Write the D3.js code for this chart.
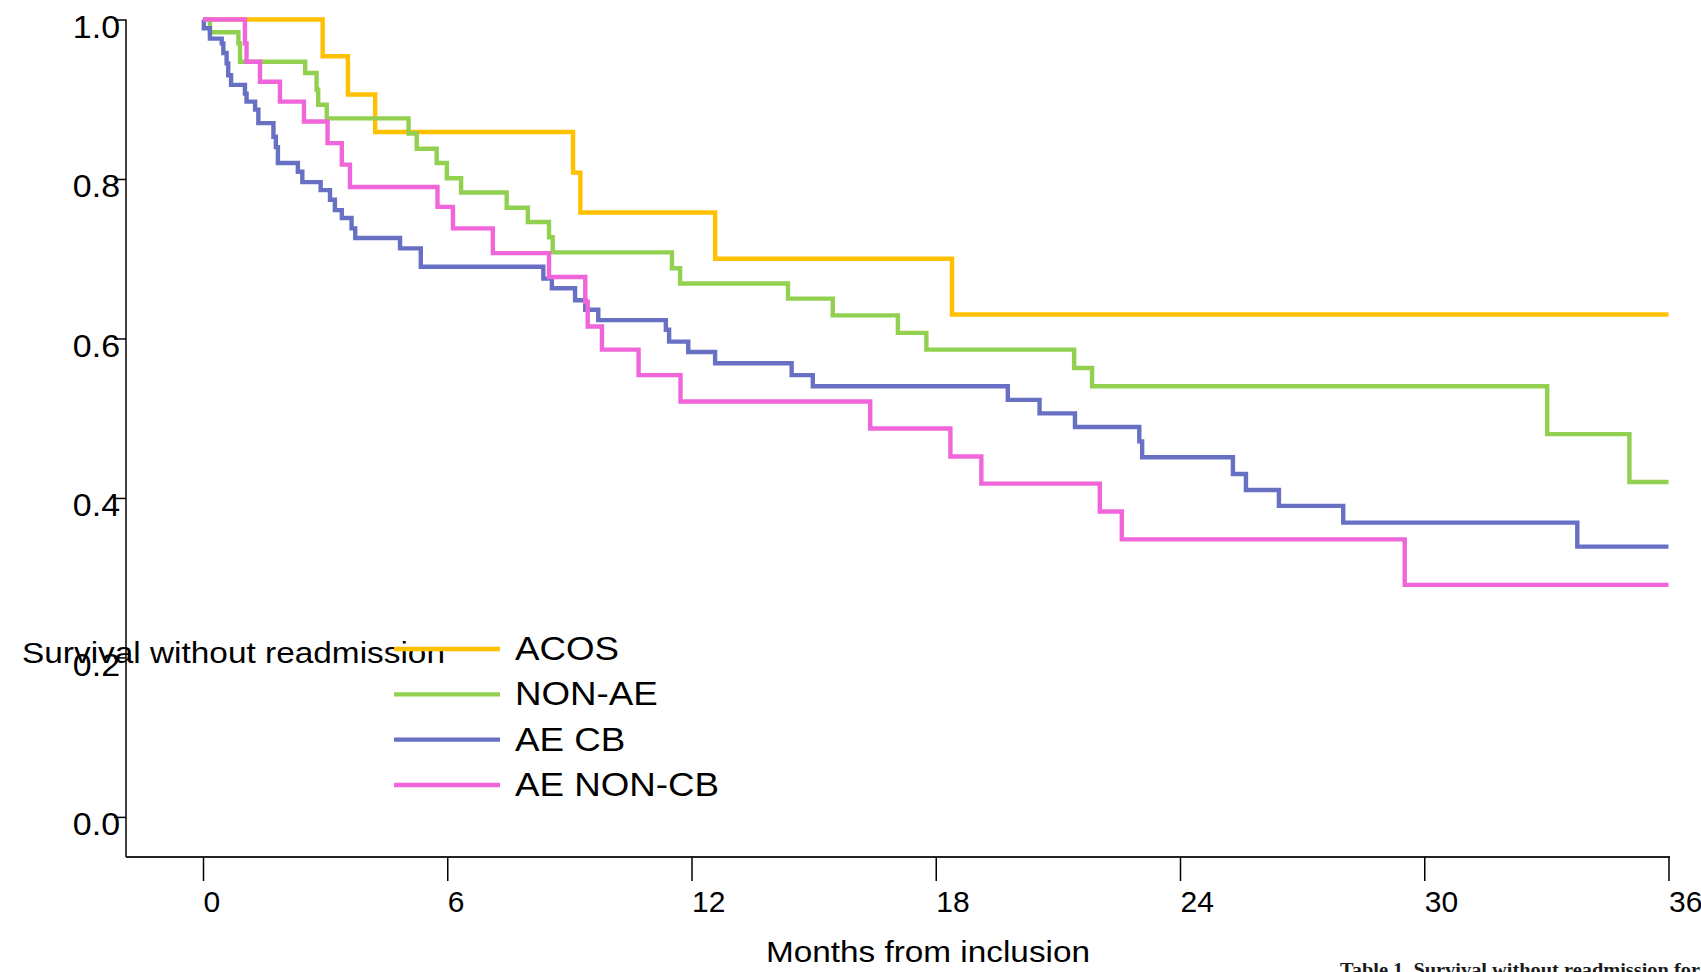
<!DOCTYPE html>
<html>
<head>
<meta charset="utf-8">
<script src="https://cdn.jsdelivr.net/npm/d3@7"></script>
<style>
  html, body { margin: 0; padding: 0; background: #ffffff; }
  svg { display: block; }
</style>
</head>
<body>
<svg id="chart" width="1701" height="972"></svg>
<script>
// ---- data ----
const monthTicks = [0, 6, 12, 18, 24, 30, 36];
const survTicks = [0, 0.2, 0.4, 0.6, 0.8, 1.0];
const seriesNames = ["ACOS", "NON-AE", "AE CB", "AE NON-CB"];

const acosTime = [0, 2.94, 3.56, 4.23, 9.09, 9.27, 12.58, 18.40];
const acosSurv = [1.0, 0.954, 0.906, 0.859, 0.808, 0.758, 0.700, 0.630];

const nonAeTime = [0, 0.17, 0.87, 0.91, 2.51, 2.79, 2.83, 3.04, 5.05, 5.25, 5.74, 5.99, 6.34, 7.46, 7.98, 8.50, 8.59, 11.52, 11.72, 14.37, 15.47, 17.07, 17.77, 21.40, 21.84, 33.02, 35.04];
const nonAeSurv = [1.0, 0.984, 0.970, 0.947, 0.933, 0.912, 0.893, 0.876, 0.857, 0.838, 0.820, 0.801, 0.783, 0.764, 0.746, 0.727, 0.708, 0.688, 0.669, 0.650, 0.629, 0.607, 0.586, 0.563, 0.540, 0.480, 0.420];

const aeCbTime = [0, 0.02, 0.17, 0.46, 0.50, 0.58, 0.62, 0.69, 1.03, 1.07, 1.28, 1.36, 1.73, 1.79, 1.84, 2.33, 2.44, 2.89, 3.12, 3.24, 3.41, 3.65, 3.74, 4.84, 5.35, 8.36, 8.57, 9.14, 9.39, 9.71, 11.37, 11.45, 11.92, 12.58, 14.46, 14.98, 19.77, 20.55, 21.42, 23.00, 23.07, 25.30, 25.62, 26.43, 28.01, 33.76];
const aeCbSurv = [1.0, 0.989, 0.976, 0.970, 0.958, 0.945, 0.930, 0.918, 0.907, 0.897, 0.887, 0.870, 0.853, 0.840, 0.820, 0.809, 0.796, 0.786, 0.774, 0.761, 0.751, 0.738, 0.726, 0.713, 0.690, 0.675, 0.663, 0.648, 0.636, 0.623, 0.611, 0.596, 0.583, 0.569, 0.554, 0.540, 0.523, 0.506, 0.489, 0.471, 0.451, 0.430, 0.410, 0.390, 0.369, 0.339];

const aeNonCbTime = [0, 1.03, 1.07, 1.40, 1.89, 2.48, 3.06, 3.41, 3.61, 5.76, 6.14, 7.12, 8.50, 9.39, 9.45, 9.80, 10.70, 11.73, 16.39, 18.36, 19.12, 22.03, 22.57, 29.52];
const aeNonCbSurv = [1.0, 0.970, 0.947, 0.922, 0.897, 0.872, 0.845, 0.818, 0.790, 0.765, 0.738, 0.707, 0.677, 0.646, 0.615, 0.586, 0.554, 0.521, 0.487, 0.452, 0.418, 0.383, 0.348, 0.291];

const seriesColors = ["#FFC000", "#92D050", "#6870C4", "#F066DA"];
const followUpEnd = 36;

// ---- chart ----
const svg = d3.select("#chart");
const FONT = "'Liberation Sans', Arial, Helvetica, sans-serif";

const x = d3.scaleLinear().domain([0, 36]).range([203, 1668.5]);
const y = d3.scaleLinear().domain([0, 1]).range([816.9, 19.5]);

const axisX0 = 126, axisY0 = 857;

function stretch(sel, f) {
  sel.each(function() {
    const w = this.getComputedTextLength();
    d3.select(this).attr("textLength", w * f).attr("lengthAdjust", "spacingAndGlyphs");
  });
}

// Y axis
svg.append("line")
  .attr("x1", axisX0).attr("x2", axisX0)
  .attr("y1", y(1)).attr("y2", axisY0)
  .attr("stroke", "#000").attr("stroke-width", 1.5);

const yAxis = svg.append("g")
  .attr("transform", `translate(${axisX0},0)`)
  .call(d3.axisLeft(y).tickValues(survTicks).tickFormat(d3.format(".1f")).tickSize(12).tickSizeOuter(0));
yAxis.select(".domain").remove();
yAxis.selectAll(".tick line").attr("stroke", "#000").attr("stroke-width", 1.5);
yAxis.selectAll(".tick text")
  .attr("x", -6).attr("dy", 18)
  .attr("text-anchor", "end")
  .style("font-family", FONT).style("font-size", "32px").attr("fill", "#000");
stretch(yAxis.selectAll(".tick text"), 1.06);

// X axis
svg.append("line")
  .attr("x1", axisX0).attr("x2", 1670)
  .attr("y1", axisY0).attr("y2", axisY0)
  .attr("stroke", "#222").attr("stroke-width", 2);

const xAxis = svg.append("g")
  .attr("transform", `translate(0,${axisY0})`)
  .call(d3.axisBottom(x).tickValues(monthTicks).tickFormat(d3.format("d")).tickSize(24).tickSizeOuter(0));
xAxis.select(".domain").remove();
xAxis.selectAll(".tick line").attr("stroke", "#000").attr("stroke-width", 1.5);
xAxis.selectAll(".tick text")
  .attr("x", 0).attr("y", 55).attr("dy", 0)
  .attr("text-anchor", "start")
  .style("font-family", FONT).style("font-size", "30px").attr("fill", "#000");

// axis title
svg.append("text")
  .attr("x", 928).attr("y", 961.5)
  .attr("text-anchor", "middle")
  .style("font-family", FONT).style("font-size", "30px").attr("fill", "#000")
  .attr("textLength", 324).attr("lengthAdjust", "spacingAndGlyphs")
  .text("Months from inclusion");

// y title (placed as in the source, overlapping the axis)
svg.append("text")
  .attr("x", 22).attr("y", 663)
  .style("font-family", FONT).style("font-size", "30px").attr("fill", "#000")
  .attr("textLength", 423).attr("lengthAdjust", "spacingAndGlyphs")
  .text("Survival without readmission");

// curves
const times = [acosTime, nonAeTime, aeCbTime, aeNonCbTime];
const survs = [acosSurv, nonAeSurv, aeCbSurv, aeNonCbSurv];
const series = seriesNames.map((name, i) => {
  const pts = times[i].map((t, j) => [t, survs[i][j]]);
  pts.push([followUpEnd, survs[i][survs[i].length - 1]]);
  return { name, color: seriesColors[i], pts };
});

const line = d3.line()
  .x(d => x(d[0]))
  .y(d => y(d[1]))
  .curve(d3.curveStepAfter);

svg.append("g").selectAll("path")
  .data(series)
  .join("path")
  .attr("d", d => line(d.pts))
  .attr("fill", "none")
  .attr("stroke", d => d.color)
  .attr("stroke-width", 4.4)
  .attr("stroke-linejoin", "miter")
  .attr("stroke-linecap", "butt");

// legend
const legendY = d3.scalePoint().domain(seriesNames).range([649, 785]);
const lg = svg.append("g");
lg.selectAll("line")
  .data(series)
  .join("line")
  .attr("x1", 394).attr("x2", 500)
  .attr("y1", d => legendY(d.name)).attr("y2", d => legendY(d.name))
  .attr("stroke", d => d.color).attr("stroke-width", 4.4);
const lt = lg.selectAll("text")
  .data(series)
  .join("text")
  .attr("x", 515).attr("y", d => legendY(d.name) + 11)
  .style("font-family", FONT).style("font-size", "34px").attr("fill", "#000")
  .text(d => d.name);
stretch(lt, 1.08);

// caption cropped by the bottom edge, as in the source
svg.append("text")
  .attr("x", 1340).attr("y", 976)
  .style("font-family", "'Liberation Serif', 'Times New Roman', serif")
  .style("font-size", "18px").style("font-weight", "bold").attr("fill", "#1a1a1a")
  .attr("textLength", 360).attr("lengthAdjust", "spacingAndGlyphs")
  .text("Table 1. Survival without readmission for");
</script>
</body>
</html>
